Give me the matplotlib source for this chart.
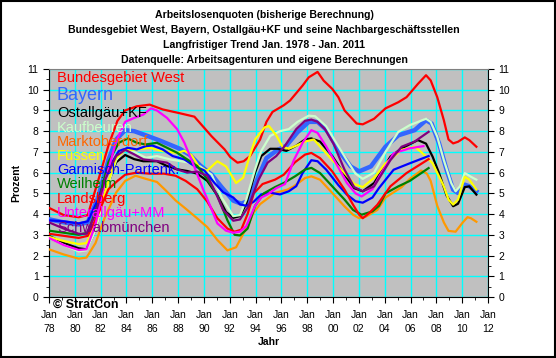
import matplotlib
matplotlib.use("Agg")
import matplotlib.pyplot as plt
from matplotlib.patches import Rectangle

plt.rcParams['font.family'] = ['Liberation Sans', 'DejaVu Sans']

# series values: (year, percent)
bw_x = [1978.0, 1979.15, 1980.3, 1981.0, 1981.8, 1982.6, 1983.3, 1983.9, 1984.8, 1985.8, 1986.8, 1988.03,
        1989.26, 1990.6, 1991.6, 1992.04, 1992.6, 1993.08, 1993.57, 1994.35, 1994.84, 1995.31, 1996.18, 1996.67,
        1997.64, 1998.12, 1998.8, 1999.27, 1999.94, 2000.41, 2000.89, 2001.83, 2002.3, 2003.18, 2004.06, 2005.06,
        2005.69, 2006.57, 2007.2, 2007.56, 2008.07, 2008.58, 2008.94, 2009.3, 2009.68, 2010.2, 2010.55, 2011.1]
bw_y = [4.3, 3.95, 3.85, 3.95, 5.6, 7.3, 8.5, 9.0, 9.2, 9.28, 9.05, 8.88,
        8.7, 7.75, 7.12, 6.75, 6.48, 6.55, 6.8, 7.6, 8.45, 8.93, 9.25, 9.48,
        10.2, 10.6, 10.86, 10.44, 10.04, 9.64, 9.0, 8.37, 8.33, 8.6, 9.1, 9.4,
        9.64, 10.28, 10.7, 10.45, 9.64, 8.53, 7.6, 7.41, 7.49, 7.7, 7.57, 7.25]

by_x = [1978.0, 1979.15, 1980.3, 1981.0, 1981.8, 1982.6, 1983.2, 1983.9, 1984.6, 1985.5, 1986.58, 1987.36,
        1988.14, 1988.92, 1989.7, 1990.6, 1991.37, 1992.27, 1992.89, 1993.47, 1994.15, 1994.84, 1995.6, 1996.38,
        1997.25, 1998.12, 1998.8, 1999.51, 2000.41, 2001.36, 2002.02, 2002.93, 2004.06, 2005.06, 2006.32, 2007.2,
        2007.63, 2008.21, 2008.79, 2009.3, 2009.68, 2010.2, 2010.55, 2011.1]
by_y = [3.75, 3.6, 3.5, 3.6, 4.8, 6.6, 7.6, 8.05, 8.0, 7.8, 7.55, 7.35,
        7.15, 6.85, 6.35, 5.9, 5.3, 4.65, 4.5, 4.65, 5.7, 6.7, 7.05, 7.3,
        7.95, 8.45, 8.45, 8.05, 7.1, 6.3, 6.06, 6.3, 7.25, 7.8, 8.05, 8.53,
        8.37, 7.41, 6.14, 5.18, 5.02, 5.42, 5.34, 5.1]

oa_x = [1978.0, 1979.15, 1980.3, 1980.9, 1981.6, 1982.3, 1983.2, 1983.9, 1984.6, 1985.3, 1986.36, 1987.14,
        1987.92, 1988.7, 1989.48, 1990.26, 1991.04, 1991.71, 1992.27, 1992.79, 1993.28, 1993.96, 1994.44, 1995.13,
        1995.7, 1996.38, 1997.15, 1997.83, 1998.32, 1998.99, 1999.94, 2000.89, 2001.64, 2002.3, 2003.18, 2004.44,
        2005.31, 2006.57, 2007.2, 2007.71, 2008.21, 2008.79, 2009.3, 2009.68, 2010.2, 2010.55, 2011.1]
oa_y = [2.95, 2.6, 2.35, 2.3, 3.2, 5.0, 6.5, 6.85, 6.65, 6.55, 6.55, 6.32,
        6.16, 6.08, 5.95, 5.6, 4.9, 4.1, 3.82, 3.9, 4.5, 6.0, 6.8, 7.15,
        7.15, 7.05, 7.3, 7.6, 7.65, 7.5, 6.8, 5.9, 5.25, 5.1, 5.5, 6.77,
        7.17, 7.57, 7.4, 6.77, 5.98, 4.9, 4.38, 4.5, 5.3, 5.34, 4.94]

kf_x = [1978.0, 1979.15, 1980.3, 1980.9, 1981.6, 1982.3, 1983.2, 1983.9, 1984.6, 1985.5, 1986.36, 1987.36,
        1988.14, 1988.92, 1989.7, 1990.6, 1991.37, 1992.27, 1992.79, 1993.28, 1993.96, 1994.44, 1995.13, 1995.89,
        1996.57, 1997.25, 1998.12, 1998.61, 1999.46, 2000.41, 2001.07, 2001.74, 2002.3, 2003.18, 2004.06, 2005.06,
        2005.94, 2007.2, 2007.56, 2008.07, 2008.58, 2009.15, 2009.49, 2009.83, 2010.2, 2010.68, 2011.1]
kf_y = [2.85, 2.5, 2.2, 2.25, 3.2, 4.9, 6.6, 7.2, 7.0, 6.72, 6.8, 6.64,
        6.56, 6.48, 6.3, 5.9, 4.8, 3.9, 3.95, 4.7, 6.16, 7.05, 7.77, 8.0,
        8.1, 8.45, 8.75, 8.72, 8.24, 7.27, 6.6, 5.95, 5.7, 6.0, 7.0, 7.97,
        8.29, 8.6, 8.45, 7.73, 6.6, 5.5, 5.1, 5.34, 5.98, 5.8, 5.66]

md_x = [1978.0, 1979.15, 1980.3, 1980.9, 1981.6, 1982.3, 1983.2, 1983.9, 1984.7, 1985.5, 1986.36, 1987.03,
        1987.8, 1988.59, 1989.37, 1990.26, 1991.04, 1991.82, 1992.49, 1993.38, 1993.86, 1994.35, 1995.5, 1996.47,
        1996.96, 1997.83, 1998.32, 1998.99, 1999.94, 2000.89, 2001.55, 2002.02, 2002.55, 2003.43, 2004.06, 2005.31,
        2005.94, 2006.82, 2007.27, 2007.56, 2008.07, 2008.58, 2008.94, 2009.49, 2010.05, 2010.41, 2010.68, 2011.1]
md_y = [2.3, 2.05, 1.85, 1.9, 2.6, 3.8, 5.04, 5.6, 5.85, 5.7, 5.55, 5.15,
        4.66, 4.26, 3.85, 3.37, 2.75, 2.25, 2.4, 3.44, 4.08, 4.48, 5.02, 5.18,
        5.34, 5.74, 5.82, 5.66, 5.02, 4.37, 3.97, 3.8, 3.88, 4.2, 4.8, 5.3,
        5.7, 6.1, 5.95, 5.6, 4.4, 3.6, 3.19, 3.15, 3.6, 3.85, 3.8, 3.63]

fu_x = [1978.0, 1979.15, 1980.3, 1980.9, 1981.6, 1982.3, 1983.2, 1983.9, 1984.8, 1985.8, 1986.8, 1987.92,
        1988.48, 1989.03, 1989.7, 1990.26, 1991.04, 1991.71, 1992.49, 1993.04, 1993.47, 1993.96, 1994.69, 1995.03,
        1995.6, 1996.09, 1996.57, 1997.15, 1997.83, 1998.51, 1999.08, 1999.94, 2000.89, 2001.64, 2002.3, 2003.18,
        2004.06, 2005.31, 2006.32, 2006.82, 2007.71, 2008.58, 2008.94, 2009.3, 2009.68, 2010.2, 2010.55, 2011.1]
fu_y = [2.9, 2.7, 2.55, 2.6, 3.5, 5.0, 6.7, 7.1, 7.12, 7.2, 7.04, 6.95,
        7.06, 6.85, 6.2, 6.1, 6.55, 6.3, 5.5, 5.76, 6.65, 7.6, 8.18, 8.25,
        7.8, 7.25, 7.15, 7.3, 7.5, 7.6, 7.2, 6.6, 5.98, 5.45, 5.3, 5.75,
        6.45, 7.1, 7.25, 7.0, 6.45, 5.34, 4.7, 4.46, 4.7, 5.8, 5.66, 5.18]

gp_x = [1978.0, 1979.15, 1980.3, 1981.0, 1981.8, 1982.6, 1983.4, 1984.1, 1984.8, 1985.5, 1986.0, 1986.8,
        1987.58, 1988.48, 1989.26, 1990.04, 1990.82, 1991.49, 1992.27, 1992.79, 1993.28, 1993.86, 1994.44, 1995.13,
        1995.89, 1996.57, 1997.15, 1997.64, 1998.32, 1998.8, 1999.46, 2000.41, 2001.07, 2001.74, 2002.3, 2003.05,
        2003.56, 2004.69, 2005.94, 2007.4]
gp_y = [3.7, 3.65, 3.55, 3.65, 4.7, 6.2, 7.04, 7.2, 7.12, 7.28, 7.31, 7.12,
        6.8, 6.64, 6.32, 6.1, 5.5, 5.05, 4.8, 4.47, 4.4, 4.6, 4.95, 5.03,
        4.95, 5.1, 5.35, 5.98, 6.6, 6.55, 6.15, 5.4, 4.94, 4.62, 4.55, 4.8,
        5.26, 6.14, 6.45, 6.8]

wm_x = [1978.0, 1979.15, 1980.3, 1981.0, 1981.8, 1982.6, 1983.4, 1984.1, 1984.8, 1985.5, 1986.36, 1987.14,
        1987.92, 1988.7, 1989.48, 1990.26, 1991.04, 1991.82, 1992.38, 1992.79, 1993.38, 1993.96, 1994.64, 1995.5,
        1996.18, 1997.05, 1997.83, 1998.32, 1998.99, 1999.94, 2000.89, 2001.55, 2002.21, 2003.05, 2003.56, 2004.06,
        2005.06, 2005.94, 2007.4]
wm_y = [3.2, 3.1, 3.0, 3.1, 4.5, 6.5, 7.44, 7.65, 7.44, 7.36, 7.44, 7.2,
        6.96, 6.64, 6.32, 5.68, 4.9, 3.7, 3.0, 2.97, 3.3, 4.4, 5.0, 5.3,
        5.5, 5.82, 6.15, 6.23, 5.98, 5.34, 4.7, 4.2, 3.97, 4.13, 4.4, 5.0,
        5.34, 5.6, 6.22]

lb_x = [1978.0, 1979.15, 1980.3, 1981.0, 1981.8, 1982.6, 1983.3, 1983.9, 1984.8, 1985.8, 1986.92, 1987.8,
        1988.59, 1989.48, 1990.26, 1991.04, 1991.82, 1992.38, 1992.89, 1993.38, 1993.86, 1994.54, 1995.5, 1996.18,
        1997.05, 1997.83, 1998.32, 1998.99, 1999.94, 2000.89, 2001.55, 2002.02, 2002.3, 2002.8, 2003.43, 2004.44,
        2005.69, 2007.4]
lb_y = [3.05, 2.95, 2.85, 2.95, 4.0, 5.2, 5.6, 5.9, 6.0, 5.95, 5.95, 5.85,
        5.6, 5.2, 4.6, 3.8, 3.3, 3.15, 3.25, 4.0, 5.0, 5.45, 5.66, 5.9,
        6.5, 6.87, 6.95, 6.7, 6.06, 5.18, 4.45, 3.97, 3.8, 4.05, 4.45, 5.34,
        5.98, 6.65]

ua_x = [1978.0, 1979.15, 1980.3, 1980.9, 1981.6, 1982.3, 1983.2, 1983.9, 1984.6, 1985.3, 1985.9, 1986.36,
        1987.14, 1987.92, 1988.48, 1989.15, 1989.93, 1990.48, 1991.04, 1991.71, 1992.27, 1992.79, 1993.28, 1993.96,
        1994.44, 1994.93, 1995.6, 1996.28, 1996.96, 1997.64, 1998.32, 1998.8, 1999.46, 2000.41, 2001.07, 2001.74,
        2002.21, 2003.05, 2003.56, 2004.69, 2005.9, 2007.0]
ua_y = [2.85, 2.5, 2.27, 2.3, 3.5, 5.5, 7.5, 8.45, 8.64, 8.8, 9.1, 9.0,
        8.64, 8.1, 7.45, 6.45, 5.2, 4.4, 3.55, 3.2, 3.1, 3.15, 3.42, 4.4,
        4.8, 4.95, 5.25, 5.45, 6.6, 7.44, 8.05, 7.92, 7.27, 6.25, 5.5, 5.0,
        4.85, 5.2, 5.8, 6.93, 7.17, 7.28]

sm_x = [1978.0, 1979.15, 1980.3, 1980.9, 1981.6, 1982.3, 1983.2, 1983.9, 1984.6, 1985.3, 1986.36, 1987.14,
        1987.92, 1988.7, 1989.48, 1990.26, 1990.93, 1991.49, 1992.27, 1992.79, 1993.47, 1994.25, 1994.93, 1995.6,
        1996.28, 1997.15, 1997.83, 1998.32, 1998.8, 1999.37, 2000.03, 2000.89, 2001.64, 2002.3, 2003.18, 2004.44,
        2005.31, 2006.32, 2007.4]
sm_y = [3.6, 3.3, 3.05, 3.05, 4.0, 5.6, 6.8, 7.1, 6.88, 6.64, 6.56, 6.48,
        6.16, 6.0, 6.05, 5.85, 5.0, 4.2, 3.68, 3.74, 4.4, 5.68, 6.48, 6.8,
        7.3, 8.1, 8.5, 8.56, 8.45, 8.1, 7.4, 6.14, 5.3, 5.1, 5.34, 6.6,
        7.25, 7.5, 7.97]

names = ['Bundesgebiet West', 'Bayern', 'Ostallgäu+KF', 'Kaufbeuren', 'Marktoberdorf', 'Füssen',
         'Garmisch-Partenk.', 'Weilheim', 'Landsberg', 'Unterallgäu+MM', 'Schwabmünchen']
xs = [bw_x, by_x, oa_x, kf_x, md_x, fu_x, gp_x, wm_x, lb_x, ua_x, sm_x]
ys = [bw_y, by_y, oa_y, kf_y, md_y, fu_y, gp_y, wm_y, lb_y, ua_y, sm_y]
line_colors = ['#FF0000', '#3366FF', '#000000', '#CCFFCC', '#FF9900', '#FFFF00',
               '#0000FF', '#008000', '#FF0000', '#FF00FF', '#800080']
text_colors = ['#FF0000', '#3366FF', '#000000', '#CCFFCC', '#FF6600', '#FFFF00',
               '#0000FF', '#008000', '#FF0000', '#FF00FF', '#800080']

fig = plt.figure(figsize=(5.56, 3.58), dpi=100)
ax = fig.add_axes([49/556, 1-297/358, 439/556, 228/358])
ax.set_facecolor('#C0C0C0')

for i, (x, y) in enumerate(zip(xs, ys)):
    lw = 3.2 if i == 1 else 1.6
    ax.plot(x, y, color=line_colors[i], lw=lw, zorder=3+i, solid_joinstyle='round')

ax.set_xlim(1978, 2012)
ax.set_ylim(0, 11)
years = list(range(1978, 2013, 2))
ax.set_xticks(years)
ax.set_xticks(range(1978, 2013), minor=True)
ax.set_xticklabels([f"Jan\n{y % 100:02d}" for y in years], fontsize=7.5, linespacing=1.6)
ax.set_yticks(range(0, 12))
ax.set_yticks([v/2 for v in range(0, 23)], minor=True)
ax.grid(True, which='major', color='#00FFFF', lw=1)
ax.tick_params(axis='both', which='both', direction='out', labelsize=7.5, color='black')
ax.tick_params(axis='y', which='both', right=True, labelright=True)
ax.tick_params(which='major', length=4)
ax.tick_params(which='minor', length=2.5)
ax.tick_params(axis='x', pad=5)
for s in ['left', 'right', 'bottom']:
    ax.spines[s].set_color('black')
ax.spines['top'].set_color('#808080')

ax.set_xlabel('Jahr', fontsize=7.5, fontweight='bold', labelpad=2)
ax.set_ylabel('Prozent', fontsize=7.5, fontweight='bold', labelpad=4)

# coloured series labels
label_y = [78, 96, 113, 128, 142, 156, 170, 184, 199, 213, 228]
for i, name in enumerate(names):
    fs = 13 if i == 1 else 10.5
    ax.text(0.018, (297-label_y[i])/228, name, transform=ax.transAxes, color=text_colors[i],
            fontsize=fs, ha='left', va='center', zorder=20)

titles = ['Arbeitslosenquoten (bisherige Berechnung)',
          'Bundesgebiet West, Bayern, Ostallgäu+KF und seine Nachbargeschäftsstellen',
          'Langfristiger Trend Jan. 1978 - Jan. 2011',
          'Datenquelle: Arbeitsagenturen und eigene Berechnungen']
for i, t in enumerate(titles):
    fig.text(0.475, 1-(15+15*i)/358, t, ha='center', va='center', fontsize=7.6, fontweight='bold')

fig.text(53/556, 1-305/358, '© StratCon', ha='left', va='center', fontsize=9, fontweight='bold')
fig.patches.append(Rectangle((0.001, 0.002), 0.997, 0.995, transform=fig.transFigure,
                             fill=False, edgecolor='black', lw=1.5))

fig.savefig('out.png', dpi=100)
